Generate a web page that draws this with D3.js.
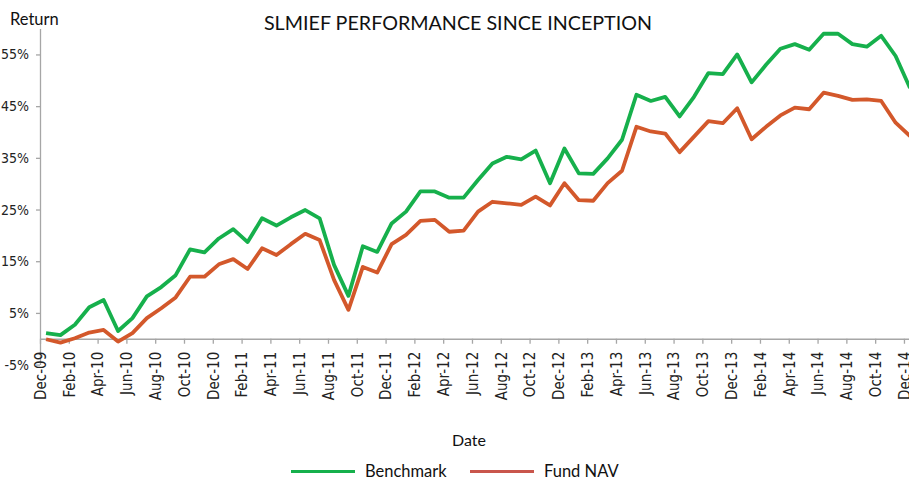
<!DOCTYPE html>
<html>
<head>
<meta charset="utf-8">
<script src="https://cdn.jsdelivr.net/npm/d3@7"></script>
<style>
  body { margin: 0; background: #fff; }
  svg { display: block; }
  .tick text { fill: #222; }
</style>
</head>
<body>
<div id="chart"></div>
<script>
// monthly categories, Dec-09 .. Dec-14
const months = [
  "Dec-09","Jan-10","Feb-10","Mar-10","Apr-10","May-10","Jun-10","Jul-10","Aug-10","Sep-10","Oct-10","Nov-10",
  "Dec-10","Jan-11","Feb-11","Mar-11","Apr-11","May-11","Jun-11","Jul-11","Aug-11","Sep-11","Oct-11","Nov-11",
  "Dec-11","Jan-12","Feb-12","Mar-12","Apr-12","May-12","Jun-12","Jul-12","Aug-12","Sep-12","Oct-12","Nov-12",
  "Dec-12","Jan-13","Feb-13","Mar-13","Apr-13","May-13","Jun-13","Jul-13","Aug-13","Sep-13","Oct-13","Nov-13",
  "Dec-13","Jan-14","Feb-14","Mar-14","Apr-14","May-14","Jun-14","Jul-14","Aug-14","Sep-14","Oct-14","Nov-14",
  "Dec-14"
];

// returns in %
const benchmark = [
  1.1, 0.7, 2.7, 6.1, 7.5, 1.5, 4.0, 8.2, 10.0, 12.3, 17.3, 16.7, 19.4, 21.2, 18.7,
  23.3, 21.9, 23.5, 24.9, 23.3, 14.3, 8.3, 17.9, 16.8, 22.3, 24.6, 28.5, 28.5, 27.3,
  27.3, 30.7, 33.9, 35.2, 34.7, 36.4, 30.1, 36.8, 32.0, 31.9, 34.9, 38.5, 47.2, 46.0, 46.8, 43.0,
  46.8, 51.4, 51.2, 55.0, 49.6, 53.0, 56.1, 57.0, 55.9, 59.0, 59.0, 57.0, 56.5, 58.6, 54.7, 48.5
];
const fundNav = [
  -0.1, -0.75, 0.1, 1.2, 1.7, -0.55, 1.1, 4.0, 5.9, 8.0, 12.0, 12.0, 14.4, 15.4, 13.5,
  17.5, 16.2, 18.3, 20.3, 19.1, 11.4, 5.6, 13.9, 12.8, 18.3, 20.1, 22.8, 23.0, 20.7,
  20.9, 24.6, 26.5, 26.2, 25.9, 27.5, 25.8, 30.1, 26.8, 26.7, 30.1, 32.5, 41.0, 40.1, 39.7, 36.1,
  39.1, 42.1, 41.7, 44.6, 38.6, 41.0, 43.2, 44.7, 44.4, 47.6, 47.0, 46.2, 46.3, 46.0, 41.8, 39.2
];

const yTicks = [-5, 5, 15, 25, 35, 45, 55];
const seriesNames = ["Benchmark", "Fund NAV"];
const seriesColors = ["#16b04c", "#d3582b"];
const legendColors = ["#16b04c", "#c9564c"];

const width = 909, height = 481;
const tickFont = "'Liberation Sans Narrow', 'DejaVu Sans Condensed', sans-serif";
const mainFont = "Lato, 'Open Sans', sans-serif";

let svg = d3.select("#chart")
    .append("svg")
    .attr("width", width)
    .attr("height", height);

// x: month index (points sit a bit after the month tick)
let x = d3.scaleLinear()
    .domain([0, 60.35])
    .range([40, 909]);
const pointOffset = 0.42;

let y = d3.scaleLinear()
    .domain([-5, 60])
    .range([364.6, 28.6]);

// y axis
let yAxis = svg.append("g")
    .attr("transform", `translate(${x(0)}, 0)`)
    .call(d3.axisLeft(y)
        .tickValues(yTicks)
        .tickSize(4)
        .tickSizeOuter(0)
        .tickPadding(7)
        .tickFormat(d => d + "%"));
yAxis.selectAll("text")
    .style("font-family", tickFont)
    .style("font-size", "14px");

// x axis at zero
let evenIdx = d3.range(0, months.length, 2);
let xAxis = svg.append("g")
    .attr("transform", `translate(0, ${y(0)})`)
    .call(d3.axisBottom(x)
        .tickValues(evenIdx)
        .tickSize(5)
        .tickSizeOuter(0)
        .tickFormat(i => months[i]));
xAxis.selectAll("text")
    .attr("transform", "rotate(-90)")
    .attr("x", -13)
    .attr("y", 0)
    .attr("dy", "0.35em")
    .style("text-anchor", "end")
    .style("font-family", tickFont)
    .style("font-size", "15px");

svg.selectAll(".domain, .tick line")
    .attr("stroke", "#a6a6a6")
    .attr("stroke-width", 1.3);

// lines
let line = d3.line()
    .x((d, i) => x(i + pointOffset))
    .y(d => y(d));

[benchmark, fundNav].forEach(function(series, k) {
    svg.append("path")
        .datum(series)
        .attr("fill", "none")
        .attr("stroke", seriesColors[k])
        .attr("stroke-width", 3.8)
        .attr("stroke-linejoin", "round")
        .attr("d", line);
});

// titles
svg.append("text")
    .attr("x", 458)
    .attr("y", 30)
    .style("text-anchor", "middle")
    .style("font-family", mainFont)
    .style("font-size", "19.7px")
    .style("fill", "#111")
    .text("SLMIEF PERFORMANCE SINCE INCEPTION");

svg.append("text")
    .attr("x", 10)
    .attr("y", 25)
    .style("font-family", mainFont)
    .style("font-size", "16.5px")
    .style("fill", "#111")
    .text("Return");

svg.append("text")
    .attr("x", 469)
    .attr("y", 446)
    .style("text-anchor", "middle")
    .style("font-family", mainFont)
    .style("font-size", "16px")
    .style("fill", "#111")
    .text("Date");

// legend
const legendX = [291, 470];
let legend = svg.selectAll(".legend")
    .data(seriesNames)
    .enter()
    .append("g")
    .attr("class", "legend")
    .attr("transform", (d, i) => `translate(${legendX[i]}, 471.5)`);

legend.append("line")
    .attr("x1", 0)
    .attr("x2", 64)
    .attr("stroke", (d, i) => legendColors[i])
    .attr("stroke-width", 2.8);

legend.append("text")
    .attr("x", 74)
    .attr("y", 5.5)
    .style("font-family", mainFont)
    .style("font-size", "16.5px")
    .style("fill", "#111")
    .text(d => d);
</script>
</body>
</html>
